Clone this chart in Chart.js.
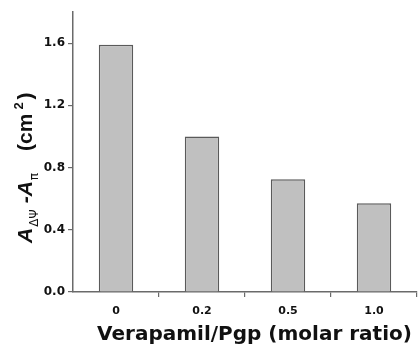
<!DOCTYPE html>
<html>
<head>
<meta charset="utf-8">
<script src="https://cdn.jsdelivr.net/npm/chart.js@4/dist/chart.umd.min.js"></script>
<style>
  html, body { margin: 0; padding: 0; background: #fff; }
  #wrap { width: 418px; height: 347px; position: relative; }
</style>
</head>
<body>
<div id="wrap"><canvas id="c" width="418" height="347"></canvas></div>
<script>
// ---- data ----
const categories = ['0', '0.2', '0.5', '1.0'];
const values = [1.59, 1.0, 0.725, 0.57];
const yTickStep = 0.4;
const yMax = 1.8;
const xTitle = 'Verapamil/Pgp (molar ratio)';

const AXIS = '#6a6a6a';

const titlesPlugin = {
  id: 'titles',
  afterDraw(chart) {
    const ctx = chart.ctx;
    // x-axis title
    ctx.save();
    ctx.fillStyle = '#111';
    ctx.font = 'bold 20px "DejaVu Sans"';
    ctx.textAlign = 'center';
    ctx.textBaseline = 'alphabetic';
    ctx.fillText(xTitle, 254.5, 340);
    ctx.restore();

    // y-axis title with subscripts/superscript, rotated
    const segs = [
      { t: 'A', f: 'italic bold 21px "Liberation Sans"', dy: 0, gap: 0 },
      { t: 'ΔΨ', f: '12px "DejaVu Sans"', dy: 6, gap: 1 },
      { t: ' -A', f: 'italic bold 21px "Liberation Sans"', dy: 0, gap: 0 },
      { t: 'π', f: '12px "DejaVu Sans"', dy: 6, gap: 1 },
      { t: '(cm', f: 'bold 21px "Liberation Sans"', dy: 0, gap: 22 },
      { t: '2', f: 'bold 13px "Liberation Sans"', dy: -9, gap: 4 },
      { t: ')', f: 'bold 21px "Liberation Sans"', dy: 0, gap: 3 }
    ];
    ctx.save();
    ctx.translate(32, 243);
    ctx.rotate(-Math.PI / 2);
    ctx.fillStyle = '#111';
    ctx.textAlign = 'left';
    ctx.textBaseline = 'alphabetic';
    let x = 0;
    for (const s of segs) {
      x += s.gap;
      ctx.font = s.f;
      ctx.fillText(s.t, x, s.dy);
      x += ctx.measureText(s.t).width;
    }
    ctx.restore();
  }
};

new Chart(document.getElementById('c'), {
  type: 'bar',
  data: {
    labels: categories,
    datasets: [{
      data: values,
      backgroundColor: '#c0c0c0',
      borderColor: '#5a5a5a',
      borderWidth: 1.5,
      categoryPercentage: 1.0,
      barPercentage: 0.4
    }]
  },
  options: {
    responsive: false,
    animation: false,
    devicePixelRatio: 1,
    layout: { padding: { top: 12, right: 1, left: 0, bottom: 0 } },
    plugins: { legend: { display: false }, tooltip: { enabled: false } },
    scales: {
      x: {
        offset: true,
        grid: {
          offset: true,
          drawOnChartArea: false,
          drawTicks: true,
          tickLength: 5,
          color: (c) => (c.index === 0 || c.index === categories.length) ? 'rgba(0,0,0,0)' : AXIS,
          lineWidth: 1.2
        },
        border: { display: true, color: AXIS, width: 1.5 },
        ticks: {
          color: '#111',
          font: { family: 'DejaVu Sans', weight: 'bold', size: 11 },
          padding: 8,
          maxRotation: 0
        },
        afterFit(scale) { scale.height = 55; }
      },
      y: {
        min: 0,
        max: yMax,
        grid: {
          drawOnChartArea: false,
          drawTicks: true,
          tickLength: 5,
          color: AXIS,
          lineWidth: 1.2
        },
        border: { display: true, color: AXIS, width: 1.5 },
        ticks: {
          stepSize: yTickStep,
          includeBounds: false,
          color: '#111',
          font: { family: 'DejaVu Sans', weight: 'bold', size: 12 },
          padding: 3,
          callback: (v) => Number(v).toFixed(1)
        },
        afterFit(scale) { scale.width = 73; }
      }
    }
  },
  plugins: [titlesPlugin]
});
</script>
</body>
</html>
